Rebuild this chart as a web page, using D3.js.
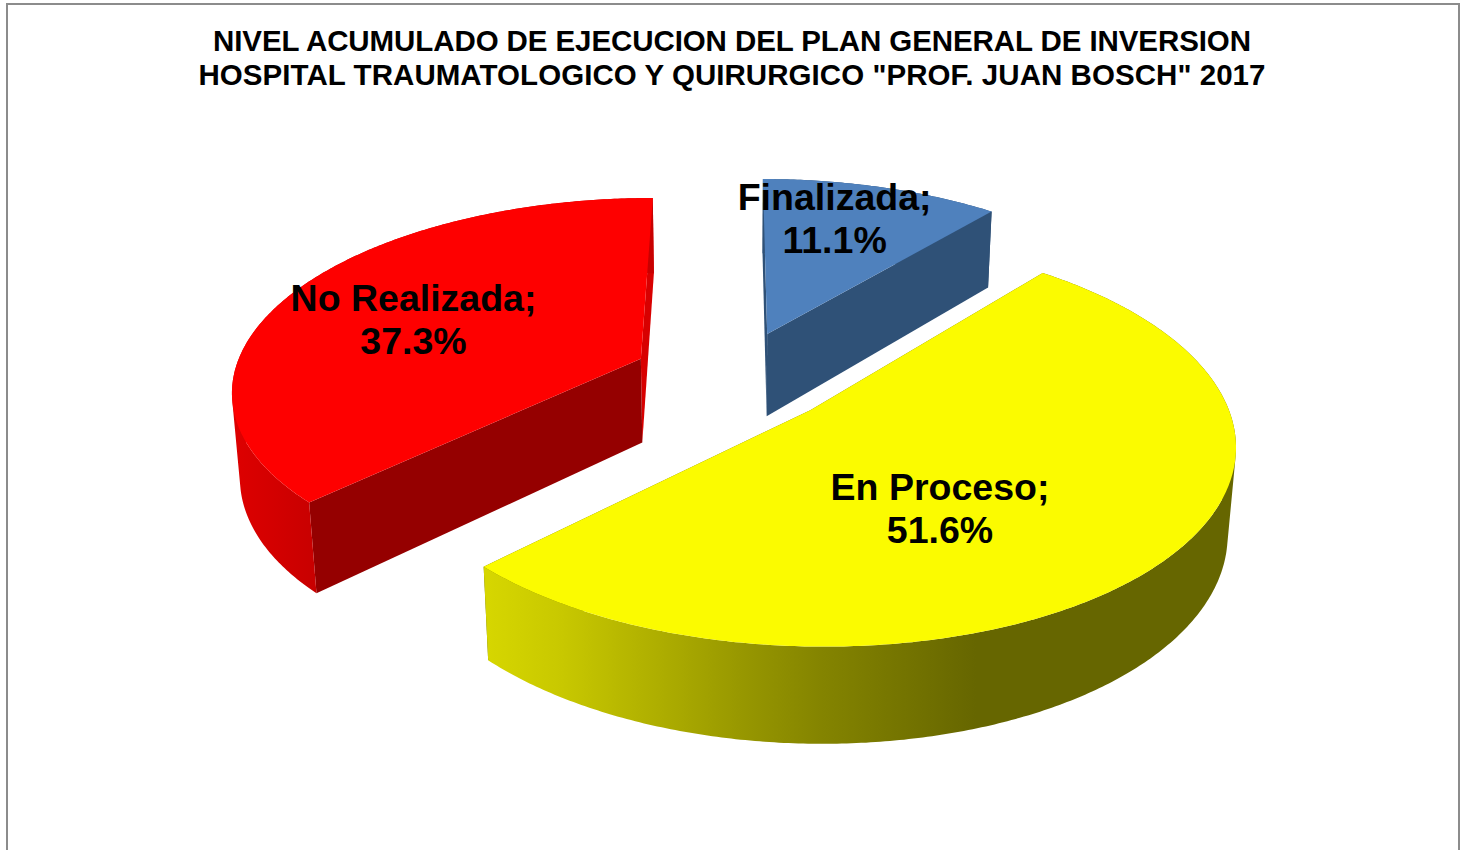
<!DOCTYPE html>
<html>
<head>
<meta charset="utf-8">
<script src="https://d3js.org/d3.v7.min.js"></script>
<style>
    html, body { margin: 0; padding: 0; background: #fff; overflow: hidden; }
    text { font-family: "Liberation Sans", Arial, sans-serif; font-weight: bold; fill: #000; }
</style>
</head>
<body>
<div id="my_dataviz"></div>
<script>
    // data
    var categories = ["Finalizada", "En Proceso", "No Realizada"];
    var values = [11.1, 51.6, 37.3];
    var titleLines = [
        "NIVEL ACUMULADO DE EJECUCION DEL PLAN GENERAL DE INVERSION",
        "HOSPITAL TRAUMATOLOGICO Y QUIRURGICO \"PROF. JUAN BOSCH\" 2017"
    ];

    var width = 1465, height = 850;

    // colours of each slice: top, cut faces, outer wall stops
    var topColors = ["#4f81bd", "#fbfb00", "#fe0000"];
    var faceColors = ["#2f5177", "#666600", "#950000"];
    var wallStops = [
        [[0, "#2f5177"], [1, "#2f5177"]],
        [[0, "#d6d600"], [0.1, "#c8c800"], [0.2, "#b4b400"], [0.35, "#969600"], [0.45, "#848400"], [0.66, "#666600"], [1, "#666600"]],
        [[0, "#dc0000"], [0.5, "#d20000"], [1, "#c80000"]]
    ];
    // line widths of the title, so both lines span what they do in the chart
    var titleWidths = [1038, 1067];
    // label position in the pie plane, relative to the slice tip (pie units)
    var labelSpots = [[0.2, 0.777], [0.278, -0.42], [-0.597, 0.269]];

    // tilted view of the pie with a little perspective
    var cx = 733.5, cy = 377, radius = 408, depthY = 190;
    var persp = 0.15, wallH = 86, wallPersp = 0.016, explode = 0.25;

    var xScale = d3.scaleLinear().domain([-1, 1]).range([-radius, radius]);
    var yScale = d3.scaleLinear().domain([-1, 1]).range([depthY, -depthY]);

    function project(X, Y, low) {
        var s = 1 / (1 + persp * Y + (low ? wallPersp : 0));
        return [cx + xScale(X) * s, cy + (yScale(Y) + (low ? wallH : 0)) * s];
    }

    var svg = d3.select("#my_dataviz").append("svg")
        .attr("width", width)
        .attr("height", height);

    // chart frame, bottom edge runs off the page
    svg.append("path")
        .attr("d", "M7," + (height + 5) + "V4H1459V" + (height + 5))
        .attr("fill", "#fff")
        .attr("stroke", "#8c8c8c")
        .attr("stroke-width", 2);

    svg.selectAll(".title")
        .data(titleLines)
        .enter().append("text")
        .attr("class", "title")
        .attr("x", 732)
        .attr("y", function (d, i) { return 51 + i * 34; })
        .attr("text-anchor", "middle")
        .attr("textLength", function (d, i) { return titleWidths[i]; })
        .style("font-size", "29.5px")
        .text(function (d) { return d; });

    var slices = d3.pie().sort(null)(values);
    var line = d3.line();
    var defs = svg.append("defs");

    function arcAngles(d) {
        var n = Math.ceil((d.endAngle - d.startAngle) / 0.01);
        return d3.range(n + 1).map(function (i) {
            return d.startAngle + (d.endAngle - d.startAngle) * i / n;
        });
    }

    // model point of a slice at angle a (clockwise from the back), r from its tip
    function point(d, a, r) {
        var mid = (d.startAngle + d.endAngle) / 2;
        return [explode * Math.sin(mid) + r * Math.sin(a), explode * Math.cos(mid) + r * Math.cos(a)];
    }

    function rim(d, low) {
        return arcAngles(d).map(function (a) {
            var p = point(d, a, 1);
            return project(p[0], p[1], low);
        });
    }

    function cutFace(d, a) {
        var tip = point(d, a, 0), end = point(d, a, 1);
        return [project(tip[0], tip[1], false), project(end[0], end[1], false),
                project(end[0], end[1], true), project(tip[0], tip[1], true)];
    }

    // outer wall as one path of small quads, all wound the same way, so the
    // straight silhouette at the sides of the pie gets filled as well
    function wallPath(top, bottom) {
        return d3.range(top.length - 1).map(function (j) {
            var quad = [top[j], top[j + 1], bottom[j + 1], bottom[j]];
            if (d3.polygonArea(quad) < 0) quad.reverse();
            return line(quad) + "Z";
        }).join("");
    }

    // back to front: blue, red, yellow
    [0, 2, 1].forEach(function (i) {
        var d = slices[i];
        var g = svg.append("g");
        var top = rim(d, false), bottom = rim(d, true);

        // horizontal shading of the outer wall
        var grad = defs.append("linearGradient")
            .attr("id", "wall" + i)
            .attr("gradientUnits", "userSpaceOnUse")
            .attr("x1", d3.min(bottom, function (p) { return p[0]; }))
            .attr("x2", i == 2 ? bottom[0][0] : d3.max(bottom, function (p) { return p[0]; }))
            .attr("y1", 0).attr("y2", 0);
        wallStops[i].forEach(function (s) {
            grad.append("stop").attr("offset", s[0]).attr("stop-color", s[1]);
        });

        g.append("path")
            .attr("d", line(cutFace(d, d.endAngle)) + "Z")
            .attr("fill", i == 2 ? "#d80000" : faceColors[i]);
        g.append("path")
            .attr("d", line(cutFace(d, d.startAngle)) + "Z")
            .attr("fill", faceColors[i]);
        g.append("path")
            .attr("d", wallPath(top, bottom))
            .attr("fill", "url(#wall" + i + ")");

        var tip = point(d, d.startAngle, 0);
        g.append("path")
            .attr("d", line([project(tip[0], tip[1], false)].concat(top)) + "Z")
            .attr("fill", topColors[i]);
    });

    // data labels
    slices.forEach(function (d, i) {
        var p = point(d, 0, 0);
        var at = project(p[0] + labelSpots[i][0], p[1] + labelSpots[i][1], false);
        var label = svg.append("text")
            .attr("x", at[0])
            .attr("y", at[1])
            .attr("text-anchor", "middle")
            .style("font-size", "37.5px");
        label.append("tspan").attr("x", at[0]).text(categories[i] + ";");
        label.append("tspan").attr("x", at[0]).attr("dy", 43).text(d.value.toFixed(1) + "%");
    });
</script>
</body>
</html>
